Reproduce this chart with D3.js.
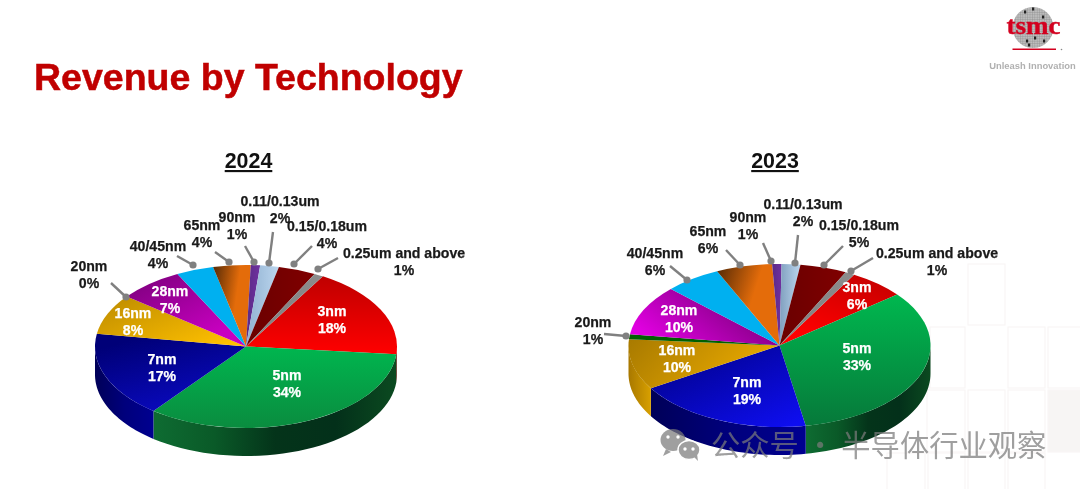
<!DOCTYPE html>
<html><head><meta charset="utf-8">
<script src="https://cdn.jsdelivr.net/npm/d3@7"></script>
<style>
html,body{margin:0;padding:0;background:#fff;overflow:hidden}
svg{display:block;filter:blur(0.45px)}
text{font-family:"Liberation Sans",Arial,sans-serif}
</style></head><body><svg id="c" width="1080" height="489"></svg>
<script>
// ---------- data ----------
const categories = ["3nm","5nm","7nm","16nm","20nm","28nm","40/45nm","65nm","90nm","0.11/0.13um","0.15/0.18um","0.25um and above"];
const values2024 = [18,34,17,8,0,7,4,4,1,2,4,1];
const values2023 = [6,33,19,10,1,10,6,6,1,2,5,1];
const years = ["2024","2023"];

// ---------- layout & style ----------
const W=1080,H=489,RX=151,RY=81.5,DEPTH=28;
const svg=d3.select("#c"), defs=svg.append("defs");
const deg=d=>d*Math.PI/180;

const chartLayouts={
 "2024":{cx:246,cy:346.5,start:30.6,yearX:248.5,
  labels:{"3nm":[332,311],"5nm":[287,375],"7nm":[162,359],"16nm":[133,313],"20nm":[89,266],"28nm":[170,291],"40/45nm":[158,246],"65nm":[202,225],"90nm":[237,217],"0.11/0.13um":[280,201],"0.15/0.18um":[327,226],"0.25um and above":[404,253]},
  leaders:{"20nm":[126,297,111,283],"40/45nm":[193,265,177,256],"65nm":[229,262,215,252],"90nm":[254,262,245,246],"0.11/0.13um":[269,263,273,232],"0.15/0.18um":[294,264,312,246],"0.25um and above":[318,269,338,258]}},
 "2023":{cx:779.5,cy:345.5,start:29.6,yearX:775,
  labels:{"3nm":[857,287],"5nm":[857,348],"7nm":[747,382],"16nm":[677,350],"20nm":[593,322],"28nm":[679,310],"40/45nm":[655,253],"65nm":[708,231],"90nm":[748,217],"0.11/0.13um":[803,204],"0.15/0.18um":[859,225],"0.25um and above":[937,253]},
  leaders:{"20nm":[626,336,604,334],"40/45nm":[687,280,670,266],"65nm":[740,265,726,250],"90nm":[771,261,763,243],"0.11/0.13um":[795,263,798,235],"0.15/0.18um":[824,265,843,246],"0.25um and above":[851,271,873,258]}}
};
const faceStyles={
 "2024":{"3nm":["#bf0000","#ff0000",0,0,0,1],"5nm":["#00b64f","#0a8c3f",0,0,0,1],"7nm":["#000078","#0a0ac4",.2,.1,.7,1],"16nm":["#bb8a00","#ffc000",0,0,1,.8],"20nm":["#006000","#006000",0,0,1,0],"28nm":["#7d007d","#c800c0",.1,0,.8,.8],"40/45nm":["#00b0f0","#00b0f0",0,0,1,0],"65nm":["#5a2c06","#e46c0a",0,.1,.65,.3],"90nm":["#5a2a86","#7030a0",0,0,1,0],"0.11/0.13um":["#8fb0d0","#bcd6ee",0,0,1,0],"0.15/0.18um":["#6a0000","#800000",0,0,1,0],"0.25um and above":["#7f7f7f","#8c8c8c",0,0,1,0]},
 "2023":{"3nm":["#c60000","#ff0000",.8,0,.3,.9],"5nm":["#00b84f","#06793a",.4,0,.4,1],"7nm":["#000082","#0e0ef0",0,0,.9,1],"16nm":["#a87a00","#eaaa00",0,0,1,.3],"20nm":["#006000","#006000",0,0,1,0],"28nm":["#e000e0","#7d007d",.1,.8,.9,.4],"40/45nm":["#00b0f0","#00b0f0",0,0,1,0],"65nm":["#5a2c06","#e46c0a",0,.1,.6,.35],"90nm":["#5a2a86","#7030a0",0,0,1,0],"0.11/0.13um":["#7f9fbe","#bcd6ee",0,0,1,0],"0.15/0.18um":["#6a0000","#800000",0,0,1,0],"0.25um and above":["#7f7f7f","#8c8c8c",0,0,1,0]}
};
const wallStyles={
 "3nm":["#7a0000","#7a0000"],
 "5nm":["#0e6c32","#0a5a28","#04341a","#03301a","#0b4a20"],
 "7nm":["#000058","#00007c","#000090"],
 "16nm":["#a87800","#d8a000"],
 "20nm":["#004a00","#004a00"]
};
const whiteLabels=new Set(["3nm","5nm","7nm","16nm","28nm"]);

function gradient(id,spec){
 const g=defs.append("linearGradient").attr("id",id).attr("x1",spec[2]).attr("y1",spec[3]).attr("x2",spec[4]).attr("y2",spec[5]);
 g.append("stop").attr("offset",0).attr("stop-color",spec[0]);
 g.append("stop").attr("offset",1).attr("stop-color",spec[1]);
}
function wallGradient(id,cols){
 const g=defs.append("linearGradient").attr("id",id).attr("x1",0).attr("y1",0).attr("x2",1).attr("y2",0);
 cols.forEach((c,i)=>g.append("stop").attr("offset",i/(cols.length-1)).attr("stop-color",c));
}

// ---------- faint background tiles ----------
const tiles=[[968,264,37,61],[930,327,35,61],[1008,327,37,61],[1048,327,34,61],[927,390,38,62],[968,390,37,62],[1008,390,37,62],[1048,390,34,62,1],[887,453,38,38],[928,453,37,38],[968,453,37,38],[1008,453,37,38]];
const bg=svg.append("g").attr("stroke","#f8f6f5").attr("stroke-width",1.2);
tiles.forEach(t=>bg.append("rect").attr("x",t[0]).attr("y",t[1]).attr("width",t[2]).attr("height",t[3]).attr("fill",t[4]?"#f7f5f4":"#fff"));

// ---------- title ----------
svg.append("text").attr("x",34).attr("y",90).attr("font-size",37.5).attr("font-weight",700).attr("fill","#c00000").attr("stroke","#c00000").attr("stroke-width",.5).text("Revenue by Technology");

// ---------- pies ----------
function drawPie(year,values){
 const L=chartLayouts[year], rows=categories.map((c,i)=>({name:c,value:values[i]}));
 const pie=d3.pie().value(d=>d.value).sort(null).startAngle(deg(L.start)).endAngle(deg(L.start+360));
 const arcs=pie(rows);
 const root=svg.append("g").attr("transform",`translate(${L.cx},${L.cy})`);
 const sy=d3.scaleLinear().domain([0,RX]).range([0,RY]);
 const walls=root.append("g");
 arcs.forEach((a,i)=>{
  const visS=Math.max(a.startAngle,deg(90)), visE=Math.min(a.endAngle,deg(270));
  if(visE<=visS||!wallStyles[a.data.name])return;
  const id=`w${year}-${i}`; wallGradient(id,wallStyles[a.data.name]);
  const n=40, ang=d3.range(n+1).map(k=>visS+(visE-visS)*k/n);
  const pt=(t,dz)=>[RX*Math.sin(t),-sy(RX)*Math.cos(t)+dz];
  const poly=ang.map(t=>pt(t,0)).concat(ang.slice().reverse().map(t=>pt(t,DEPTH)));
  walls.append("path").attr("d",d3.line()(poly)+"Z").attr("fill",`url(#${id})`);
 });
 const arc=d3.arc().innerRadius(0).outerRadius(RX);
 const top=root.append("g").attr("transform",`scale(1,${RY/RX})`);
 arcs.forEach((a,i)=>{
  if(a.data.value===0)return;
  const id=`f${year}-${i}`; gradient(id,faceStyles[year][a.data.name]);
  top.append("path").attr("d",arc(a)).attr("fill",`url(#${id})`);
 });
 const lg=svg.append("g");
 Object.entries(L.leaders).forEach(([k,v])=>{
  lg.append("line").attr("x1",v[0]).attr("y1",v[1]).attr("x2",v[2]).attr("y2",v[3]).attr("stroke","#808080").attr("stroke-width",2.4);
  lg.append("circle").attr("cx",v[0]).attr("cy",v[1]).attr("r",3.6).attr("fill","#808080");
 });
 const tg=svg.append("g").attr("text-anchor","middle").attr("font-weight",700).attr("font-size",14.1).attr("stroke-width",.25);
 rows.forEach(r=>{
  const p=L.labels[r.name];
  const fill=whiteLabels.has(r.name)?"#fff":"#1a1a1a";
  tg.append("text").attr("x",p[0]).attr("y",p[1]+5).attr("fill",fill).attr("stroke",fill).text(r.name);
  tg.append("text").attr("x",p[0]).attr("y",p[1]+22.4).attr("fill",fill).attr("stroke",fill).text(r.value+"%");
 });
 svg.append("text").attr("x",L.yearX).attr("y",168).attr("text-anchor","middle").attr("font-size",21.4).attr("font-weight",700).attr("fill","#111").attr("text-decoration","underline").text(year);
}
drawPie("2024",values2024);
drawPie("2023",values2023);

// ---------- logo ----------
const pat=defs.append("pattern").attr("id","wafer").attr("width",2.4).attr("height",2.4).attr("patternUnits","userSpaceOnUse");
pat.append("rect").attr("width",2.4).attr("height",2.4).attr("fill","#bdbdbd");
pat.append("path").attr("d","M0 0H2.4M0 0V2.4").attr("stroke","#8a8a8a").attr("stroke-width",.7);
const logo=svg.append("g");
logo.append("circle").attr("cx",1033).attr("cy",27.5).attr("r",20.5).attr("fill","url(#wafer)");
[[1025,12],[1033,9],[1043,17],[1027,41],[1035,38],[1044,41],[1029,45]].forEach(p=>logo.append("rect").attr("x",p[0]-1).attr("y",p[1]-1.5).attr("width",2.2).attr("height",3).attr("fill","#222"));
logo.append("text").attr("x",1033.5).attr("y",34).attr("text-anchor","middle").attr("font-size",26).attr("font-weight",700).attr("fill","#d3001f").attr("stroke","#d3001f").attr("stroke-width",.4).attr("textLength",54).attr("lengthAdjust","spacingAndGlyphs").style("font-family","'Liberation Serif',serif").text("tsmc");
logo.append("rect").attr("x",1012.5).attr("y",48.5).attr("width",43.5).attr("height",1.5).attr("fill","#d3001f");
logo.append("circle").attr("cx",1061.5).attr("cy",49.5).attr("r",.8).attr("fill","#888");
logo.append("text").attr("x",1032.5).attr("y",68.5).attr("text-anchor","middle").attr("font-size",9.4).attr("font-weight",700).attr("fill","#b0b0b0").text("Unleash Innovation");

// ---------- watermark ----------
const wm=svg.append("g").attr("opacity",.72);
const wmc="#7b7b7b";
wm.append("ellipse").attr("cx",673).attr("cy",440).attr("rx",12.5).attr("ry",11).attr("fill",wmc);
wm.append("path").attr("d","M666 449l-3 7 8-4z").attr("fill",wmc);
wm.append("ellipse").attr("cx",689).attr("cy",450).attr("rx",11).attr("ry",9.5).attr("fill",wmc).attr("stroke","#fff").attr("stroke-width",1.5);
wm.append("path").attr("d","M694 457l4 4-1-7z").attr("fill",wmc);
[[668,437],[678,437],[685,449],[693,449]].forEach(p=>wm.append("circle").attr("cx",p[0]).attr("cy",p[1]).attr("r",1.7).attr("fill","#fff"));
wm.append("text").attr("x",711).attr("y",456).attr("font-size",29.3).attr("fill",wmc).style("font-family","'Noto Sans CJK SC'").text("公众号 · 半导体行业观察");
</script></body></html>
